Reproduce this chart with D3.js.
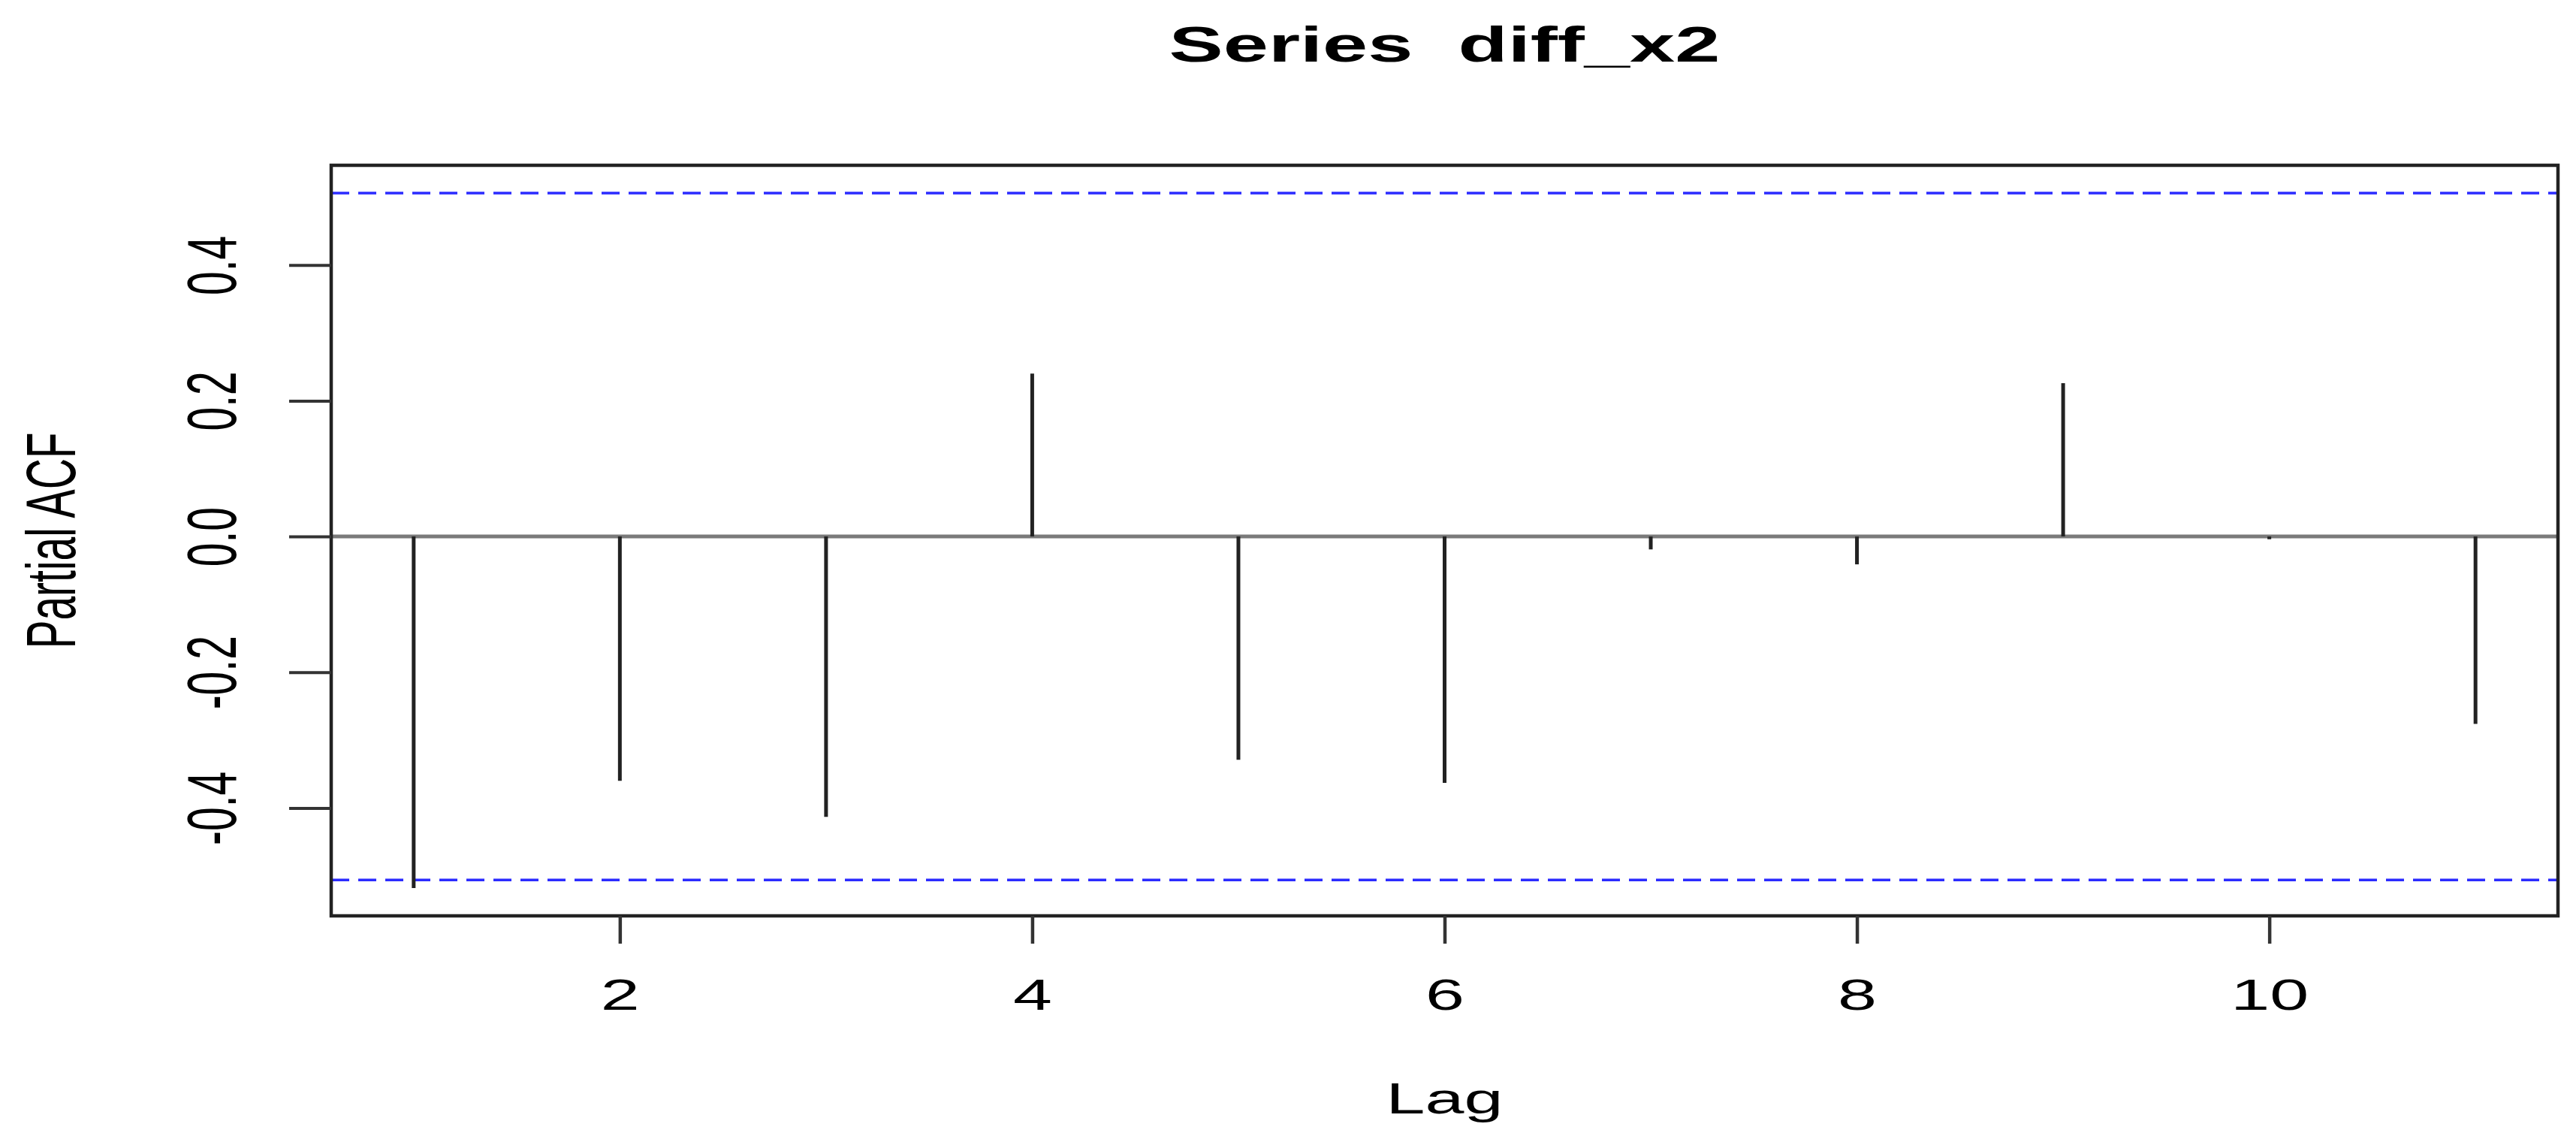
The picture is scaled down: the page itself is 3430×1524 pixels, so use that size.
<!DOCTYPE html>
<html>
<head>
<meta charset="utf-8">
<script src="https://cdn.jsdelivr.net/npm/d3@7"></script>
<style>
  body { margin: 0; background: #fff; }
  svg { display: block; font-family: "Liberation Sans", Arial, sans-serif; }
</style>
</head>
<body>
<div id="chart"></div>
<script>
// partial autocorrelations
var lags = [1, 2, 3, 4, 5, 6, 7, 8, 9, 10, 11];
var pacfValues = [-0.518, -0.360, -0.413, 0.240, -0.329, -0.363, -0.019, -0.041, 0.226, -0.004, -0.276];
var nObs = 15; // series length -> 95% bound 1.96/sqrt(n)
var xTicks = [2, 4, 6, 8, 10];
var yTicks = [-0.4, -0.2, 0.0, 0.2, 0.4];
var titleText = "Series  diff_x2";
var xLabel = "Lag";
var yLabel = "Partial ACF";

var W = 3430, H = 1524;
var box = { left: 441, right: 3406, top: 220, bottom: 1219 };
var sx = 1.64; // the reference is stretched sideways, text too

var clim = 1.96 / Math.sqrt(nObs);

// R style 4% padding of the data range
function pad(lo, hi) {
    var d = (hi - lo) * 0.04;
    return [lo - d, hi + d];
}

var yExt = d3.extent(pacfValues.concat([clim, -clim]));
var x = d3.scaleLinear()
    .domain(pad(d3.min(lags), d3.max(lags)))
    .range([box.left, box.right]);
var y = d3.scaleLinear()
    .domain(pad(yExt[0], yExt[1]))
    .range([box.bottom, box.top]);

var svg = d3.select("#chart").append("svg")
    .attr("width", W)
    .attr("height", H);

svg.append("rect")
    .attr("width", W)
    .attr("height", H)
    .attr("fill", "#fff");

// zero line
svg.append("line")
    .attr("x1", box.left).attr("x2", box.right)
    .attr("y1", y(0)).attr("y2", y(0))
    .attr("stroke", "#7a7a7a")
    .attr("stroke-width", 5);

// confidence bounds
[clim, -clim].forEach(function (c) {
    svg.append("line")
        .attr("x1", box.left).attr("x2", box.right)
        .attr("y1", y(c)).attr("y2", y(c))
        .attr("stroke", "#2b2bff")
        .attr("stroke-width", 3.5)
        .attr("stroke-dasharray", "24,12");
});

// spikes
svg.append("g")
    .selectAll("line")
    .data(lags)
    .enter()
    .append("line")
    .attr("x1", function (d) { return x(d); })
    .attr("x2", function (d) { return x(d); })
    .attr("y1", y(0))
    .attr("y2", function (d, i) { return y(pacfValues[i]); })
    .attr("stroke", "#222")
    .attr("stroke-width", 5);

// frame
svg.append("rect")
    .attr("x", box.left)
    .attr("y", box.top)
    .attr("width", box.right - box.left)
    .attr("height", box.bottom - box.top)
    .attr("fill", "none")
    .attr("stroke", "#222")
    .attr("stroke-width", 4.5);

// x axis
var xAxis = svg.append("g")
    .attr("transform", "translate(0," + box.bottom + ")")
    .call(d3.axisBottom(x).tickValues(xTicks).tickSize(37).tickFormat(d3.format("d")));
xAxis.select(".domain").remove();
xAxis.selectAll(".tick line").attr("stroke", "#333").attr("stroke-width", 4.5);
xAxis.selectAll(".tick text")
    .attr("y", 125)
    .attr("dy", null)
    .attr("transform", "scale(" + sx + ",1)")
    .attr("fill", "#000")
    .attr("font-size", 57)
    .attr("font-family", "Liberation Sans, Arial, sans-serif");

// y axis
var yAxis = svg.append("g")
    .attr("transform", "translate(" + box.left + ",0)")
    .call(d3.axisLeft(y).tickValues(yTicks).tickSize(56).tickFormat(function (d) { return d.toFixed(1); }));
yAxis.select(".domain").remove();
yAxis.selectAll(".tick line").attr("stroke", "#333").attr("stroke-width", 4);
yAxis.selectAll(".tick text")
    .attr("x", 0)
    .attr("y", 0)
    .attr("dy", null)
    .attr("text-anchor", "middle")
    .attr("transform", "translate(-127,0) scale(" + sx + ",1) rotate(-90)")
    .attr("fill", "#000")
    .attr("font-size", 57)
    .attr("font-family", "Liberation Sans, Arial, sans-serif");

var midX = (box.left + box.right) / 2;
var midY = (box.top + box.bottom) / 2;

// title
svg.append("text")
    .attr("transform", "translate(" + midX + ",82) scale(" + sx + ",1)")
    .attr("text-anchor", "middle")
    .attr("font-size", 66)
    .attr("font-weight", "bold")
    .attr("xml:space", "preserve")
    .style("white-space", "pre")
    .text(titleText);

// axis titles
svg.append("text")
    .attr("transform", "translate(" + midX + ",1482) scale(" + sx + ",1)")
    .attr("text-anchor", "middle")
    .attr("font-size", 57)
    .text(xLabel);

svg.append("text")
    .attr("transform", "translate(100," + midY + ") scale(" + sx + ",1) rotate(-90)")
    .attr("text-anchor", "middle")
    .attr("font-size", 57)
    .text(yLabel);
</script>
</body>
</html>
